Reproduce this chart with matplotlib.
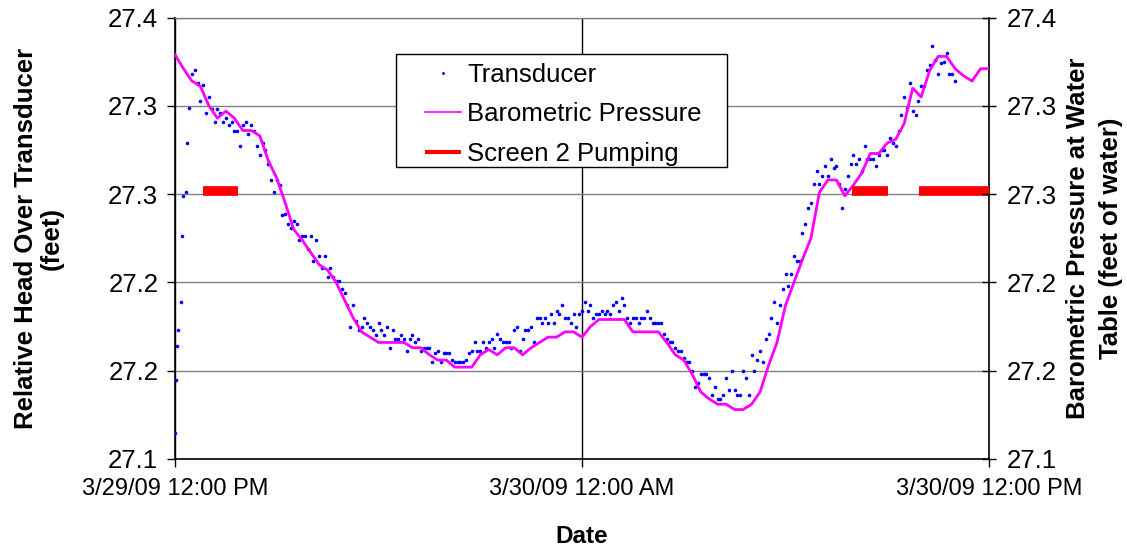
from datetime import datetime, timedelta

import matplotlib
matplotlib.use("Agg")
import matplotlib.pyplot as plt
import matplotlib.dates as mdates
from matplotlib.patches import Rectangle
from matplotlib.ticker import FuncFormatter

plt.rcParams["font.family"] = ["Liberation Sans", "DejaVu Sans"]

# ── Data ────────────────────────────────────────────────────
T0 = datetime(2009, 3, 29, 12, 0)

# barometric pressure at water table (ft of water), every 15 min
baro_ft = [
    27.329, 27.321, 27.314, 27.311, 27.300, 27.293, 27.297, 27.293,
    27.286, 27.286, 27.283, 27.269, 27.259, 27.245, 27.230, 27.224,
    27.217, 27.210, 27.207, 27.200, 27.190, 27.180, 27.172, 27.169,
    27.166, 27.166, 27.166, 27.166, 27.163, 27.163, 27.159, 27.156,
    27.156, 27.152, 27.152, 27.152, 27.159, 27.162, 27.159, 27.163,
    27.163, 27.159, 27.163, 27.166, 27.169, 27.169, 27.172, 27.172,
    27.169, 27.175, 27.179, 27.179, 27.179, 27.179, 27.172, 27.172,
    27.172, 27.172, 27.166, 27.159, 27.156, 27.148, 27.138, 27.134,
    27.131, 27.131, 27.128, 27.128, 27.131, 27.138, 27.153, 27.166,
    27.187, 27.200, 27.213, 27.225, 27.251, 27.258, 27.258, 27.249,
    27.255, 27.262, 27.273, 27.273, 27.279, 27.281, 27.290, 27.310,
    27.305, 27.320, 27.328, 27.328, 27.321, 27.317, 27.314, 27.321,
    27.321,
]

# transducer: recovery right after the start (minutes, ft)
tr_recovery_min = [0, 1, 4, 6, 11, 13, 15, 19, 21, 24]
tr_recovery_ft = [27.115, 27.145, 27.164, 27.173, 27.189,
                  27.226, 27.249, 27.251, 27.279, 27.299]

# transducer: regular 5-min readings from 12:30 PM on
TR_START_MIN = 30
tr_ft = [
    27.318, 27.320, 27.313, 27.303, 27.312, 27.296, 27.305, 27.298, 27.291, 27.298, 27.296, 27.291,
    27.293, 27.289, 27.291, 27.286, 27.286, 27.277, 27.289, 27.291, 27.284, 27.289, 27.286, 27.277,
    27.272, 27.279, 27.275, 27.267, 27.258, 27.251, 27.258, 27.255, 27.238, 27.239, 27.233, 27.231,
    27.235, 27.233, 27.224, 27.226, 27.226, 27.219, 27.226, 27.212, 27.224, 27.215, 27.208, 27.215,
    27.203, 27.208, 27.203, 27.201, 27.201, 27.196, 27.194, 27.187, 27.175, 27.187, 27.178, 27.173,
    27.175, 27.180, 27.177, 27.175, 27.173, 27.170, 27.177, 27.173, 27.170, 27.175, 27.163, 27.173,
    27.168, 27.168, 27.170, 27.168, 27.161, 27.168, 27.170, 27.166, 27.168, 27.161, 27.163, 27.163,
    27.163, 27.155, 27.160, 27.161, 27.155, 27.160, 27.160, 27.160, 27.156, 27.155, 27.155, 27.155,
    27.155, 27.156, 27.160, 27.161, 27.166, 27.161, 27.161, 27.166, 27.163, 27.166, 27.168, 27.163,
    27.171, 27.168, 27.166, 27.166, 27.166, 27.163, 27.173, 27.175, 27.161, 27.168, 27.173, 27.173,
    27.175, 27.166, 27.180, 27.180, 27.177, 27.180, 27.177, 27.182, 27.177, 27.184, 27.182, 27.187,
    27.180, 27.180, 27.177, 27.182, 27.175, 27.182, 27.184, 27.189, 27.184, 27.187, 27.180, 27.182,
    27.182, 27.184, 27.182, 27.184, 27.182, 27.187, 27.189, 27.184, 27.191, 27.187, 27.180, 27.177,
    27.180, 27.180, 27.177, 27.180, 27.180, 27.184, 27.180, 27.177, 27.177, 27.177, 27.177, 27.171,
    27.168, 27.166, 27.166, 27.163, 27.161, 27.161, 27.157, 27.155, 27.155, 27.150, 27.141, 27.143,
    27.148, 27.148, 27.148, 27.146, 27.136, 27.141, 27.134, 27.134, 27.136, 27.146, 27.139, 27.150,
    27.139, 27.136, 27.136, 27.150, 27.146, 27.136, 27.159, 27.150, 27.156, 27.161, 27.155, 27.168,
    27.171, 27.180, 27.189, 27.177, 27.187, 27.196, 27.205, 27.198, 27.205, 27.215, 27.212, 27.212,
    27.228, 27.233, 27.242, 27.245, 27.256, 27.263, 27.256, 27.260, 27.266, 27.260, 27.270, 27.265,
    27.266, 27.256, 27.242, 27.253, 27.260, 27.267, 27.272, 27.267, 27.270, 27.263, 27.277, 27.270,
    27.270, 27.270, 27.266, 27.272, 27.275, 27.275, 27.272, 27.282, 27.279, 27.277, 27.286, 27.295,
    27.305, 27.299, 27.313, 27.297, 27.295, 27.303, 27.311, 27.311, 27.320, 27.323, 27.334, 27.326,
    27.318, 27.324, 27.325, 27.330, 27.318, 27.318, 27.314,
]

# screen 2 pumping periods (start min, end min) and plotting level
pump_periods = [(49, 112), (1197, 1262), (1316, 1440)]
PUMP_LEVEL = 27.252

y_ticks = [27.10, 27.15, 27.20, 27.25, 27.30, 27.35]
y_tick_labels = ["27.1", "27.2", "27.2", "27.3", "27.3", "27.4"]

# ── Time axes ───────────────────────────────────────────────
baro_t = [T0 + timedelta(minutes=15 * i) for i in range(len(baro_ft))]
tr_t = [T0 + timedelta(minutes=m) for m in tr_recovery_min]
tr_t += [T0 + timedelta(minutes=TR_START_MIN + 5 * k) for k in range(len(tr_ft))]
tr_v = tr_recovery_ft + tr_ft

# ── Figure ──────────────────────────────────────────────────
fig = plt.figure(figsize=(11.27, 5.52), dpi=100)
ax = fig.add_axes([175 / 1127, 93 / 552, 814 / 1127, 441.5 / 552])

FS_X = 17
FS_Y = 18.5

ax.plot(tr_t, tr_v, linestyle="none", marker="o", markersize=2.6,
        color="#0000ff", markeredgewidth=0, label="Transducer", zorder=3)
ax.plot(baro_t, baro_ft, color="#ff00ff", linewidth=2.0,
        label="Barometric Pressure", zorder=4)
for i, (a, b) in enumerate(pump_periods):
    ax.plot([T0 + timedelta(minutes=a), T0 + timedelta(minutes=b)],
            [PUMP_LEVEL, PUMP_LEVEL], color="#ff0000", linewidth=7.0,
            solid_capstyle="butt", zorder=5,
            label="Screen 2 Pumping" if i == 0 else None)

ax.set_xlim(T0, T0 + timedelta(hours=24))
ax.set_ylim(27.10, 27.35)
ax.set_yticks(y_ticks)
ax.set_yticklabels(y_tick_labels)

ax.xaxis.set_major_locator(mdates.HourLocator(byhour=[0, 12]))


def _fmt_date(x, _pos):
    d = mdates.num2date(x)
    hour = d.hour % 12 or 12
    ampm = "AM" if d.hour < 12 else "PM"
    return f"{d.month}/{d.day}/{d.strftime('%y')} {hour}:{d.minute:02d} {ampm}"


ax.xaxis.set_major_formatter(FuncFormatter(_fmt_date))

ax.grid(axis="y", color="#808080", linewidth=1.0, zorder=0)
ax.grid(axis="x", color="#000000", linewidth=1.0, zorder=0)
ax.set_axisbelow(True)

for side in ("left", "right", "bottom"):
    ax.spines[side].set_color("black")
    ax.spines[side].set_linewidth(1.2)
ax.spines["top"].set_color("#808080")
ax.spines["top"].set_linewidth(1.0)

ax.tick_params(axis="y", direction="out", length=6, width=1, labelsize=FS_Y, pad=6)
ax.tick_params(axis="x", direction="out", length=6, width=1, labelsize=FS_X, pad=8)

ax.set_ylabel("Relative Head Over Transducer\n(feet)", fontsize=FS_Y,
              fontweight="bold", labelpad=32, linespacing=1.1)
ax.set_xlabel("Date", fontsize=17.5, fontweight="bold", labelpad=18)

# right axis – same scale, feet of water
ax2 = ax.twinx()
ax2.set_ylim(27.10, 27.35)
ax2.set_yticks(y_ticks)
ax2.set_yticklabels(y_tick_labels)
ax2.tick_params(axis="y", direction="inout", length=10, width=1, labelsize=FS_Y, pad=8)
for s in ax2.spines.values():
    s.set_visible(False)
ax2.set_ylabel("Barometric Pressure at Water\nTable (feet of water)", fontsize=FS_Y,
               fontweight="bold", labelpad=6, linespacing=1.5)

# legend: box drawn separately so the inner padding can be wider on the left
ax.add_patch(Rectangle((0.2715, 0.6614), 0.4066, 0.256, transform=ax.transAxes,
                       facecolor="white", edgecolor="black", linewidth=1.0,
                       zorder=8))
leg = ax.legend(loc="upper left", bbox_to_anchor=(0.307, 0.897),
                fontsize=18.5, frameon=False, borderpad=0,
                labelspacing=0.6, handlelength=1.4, handletextpad=0.25,
                borderaxespad=0, numpoints=1, markerscale=0.8)
handles = leg.legend_handles
handles[1].set_linewidth(1.2)
handles[2].set_linewidth(3.0)
leg.set_zorder(10)

fig.savefig("out.png", dpi=100, facecolor="white")
